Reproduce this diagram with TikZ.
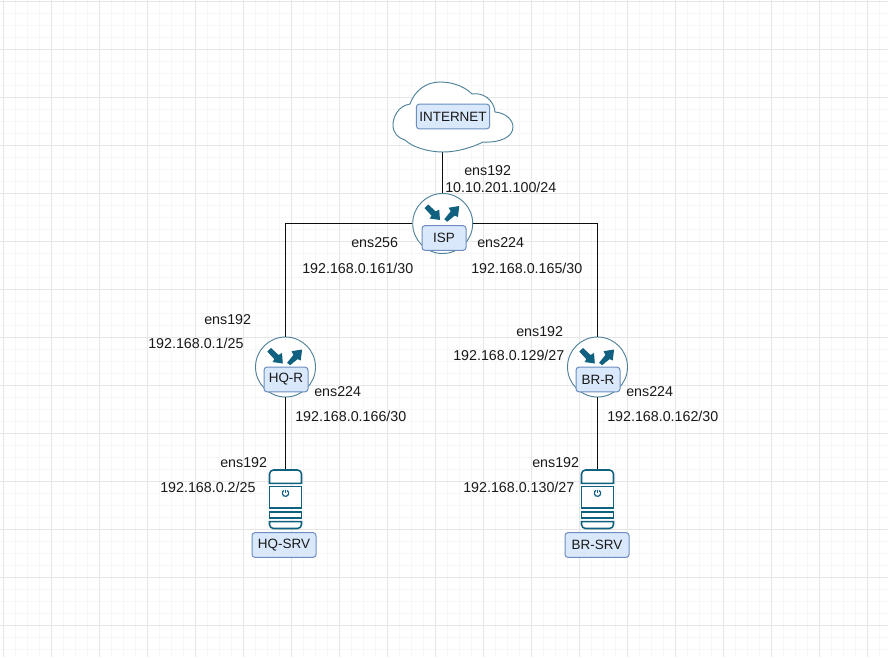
\documentclass[tikz,border=0pt]{standalone}
\usepackage{fontspec}
\setmainfont{Liberation Sans}
\usetikzlibrary{calc}
\definecolor{boxfill}{HTML}{DAE8FC}
\definecolor{boxline}{HTML}{6C8EBF}
\definecolor{icon}{HTML}{10607F}
\definecolor{ring}{HTML}{4F8299}
\definecolor{gmaj}{HTML}{E6E6E6}
\definecolor{gmin}{HTML}{F7F7F7}
\tikzset{
  lbl/.style={inner sep=0pt,font=\fontsize{10.7pt}{12pt}\selectfont,text=black!90},
  tag/.style={draw=boxline,fill=boxfill,rounded corners=2.2pt,line width=.75pt,inner sep=0pt,font=\fontsize{10.1pt}{12pt}\selectfont,text=black!90,minimum height=18.5pt},
  routerc/.style={circle,draw=ring,fill=white,line width=.7pt,minimum size=45pt,inner sep=0pt},
  link/.style={line width=1.1pt,black!95},
  arr/.style={draw=none,fill=icon},
  srv/.style={draw=icon,fill=white,line width=1.15pt},
}
\newcommand{\routerarrows}[1]{%
  \begin{scope}[shift={(#1)}]
  \fill[arr] (-14.5,-19) -- (-6.9,-12) -- (-3.5,-14) -- (-2.7,-3.5) -- (-13,-5) -- (-11.1,-7.8) -- (-18.2,-15.4) -- cycle;
  \fill[arr] (4.6,-1.8) -- (12.1,-7.9) -- (15.2,-6.5) -- (16.6,-17.5) -- (6,-15.8) -- (7.9,-12.1) -- (1.6,-4.2) -- cycle;
  \end{scope}
}
\newcommand{\servericon}[1]{%
  \begin{scope}[shift={(#1)}]
  \draw[srv] (-16,13.3) [rounded corners=3pt] -- (-16,0) -- (16,0) [sharp corners] -- (16,13.3) -- cycle;
  \draw[srv] (-16,16.5) rectangle (16,38);
  \draw[srv] (-16,42) rectangle (16,48);
  \draw[srv] (-16,51.7) [rounded corners=3pt] -- (-16,58.5) -- (16,58.5) [sharp corners] -- (16,51.7) -- cycle;
  \draw[draw=icon,line width=.9pt] (1.6,20.4) arc[start angle=300,end angle=600,radius=3.2];
  \draw[draw=icon,line width=.9pt] (0,19.5) -- (0,23.3);
  \end{scope}
}
\begin{document}
\begin{tikzpicture}[x=.75pt,y=-.75pt]
\useasboundingbox (0,0) rectangle (888,657);
\fill[white] (0,0) rectangle (888,657);
\foreach \i in {0,...,74} \draw[gmin,line width=.75pt] ({3.5+12*\i},0) -- ({3.5+12*\i},657);
\foreach \i in {0,...,55} \draw[gmin,line width=.75pt] (0,{1+12*\i}) -- (888,{1+12*\i});
\foreach \i in {0,...,18} \draw[gmaj,line width=.75pt] ({3.5+48*\i},0) -- ({3.5+48*\i},657);
\foreach \i in {0,...,13} \draw[gmaj,line width=.75pt] (0,{1+48*\i}) -- (888,{1+48*\i});

\coordinate (cb) at (442.7,152);
\coordinate (jl) at (285.5,223.5);
\coordinate (jr) at (597.5,223.5);
\node[routerc] (isp) at (442.7,223.5) {};
\node[routerc] (hq) at (285.5,367) {};
\node[routerc] (br) at (597.5,367) {};
\coordinate (hqs) at (285.5,470);
\coordinate (brs) at (597.5,470);

\draw[link] (cb) -- (isp.north);
\draw[link] (isp.west) -- (jl) -- (hq.north);
\draw[link] (isp.east) -- (jr) -- (br.north);
\draw[link] (hq.south) -- (hqs);
\draw[link] (br.south) -- (brs);

\draw[draw=ring,fill=white,line width=.7pt]
 (410,104) .. controls (398,106) and (393,117) .. (393,125)
 .. controls (393,133) and (398,138) .. (405,140)
 .. controls (412,147) and (428,152) .. (443,152)
 .. controls (458,152) and (473,147) .. (483,142)
 .. controls (500,143) and (513,137) .. (513,127)
 .. controls (513,120) and (506,113) .. (495,112)
 .. controls (494,100) and (483,92) .. (472,94)
 .. controls (463,85) and (450,82) .. (440,82)
 .. controls (425,82) and (414,92) .. (410,104) -- cycle;
\node[tag,minimum width=55pt] (inet) at (453,116.5) {INTERNET};

\routerarrows{442.7,223.5}
\routerarrows{285.5,367}
\routerarrows{597.5,367}
\node[tag,minimum width=33pt] (ispl) at (444,238) {ISP};
\node[tag,minimum width=33pt] (hql) at (286,379.5) {HQ-R};
\node[tag,minimum width=33pt] (brl) at (598,379.5) {BR-R};

\servericon{hqs}
\servericon{brs}
\node[tag,minimum width=48pt] (hqsl) at (284,545) {HQ-SRV};
\node[tag,minimum width=48pt] (brsl) at (597,545) {BR-SRV};

\node[lbl,anchor=west] (l1) at (464,171) {ens192};
\node[lbl,anchor=west] (l2) at (445,187) {10.10.201.100/24};
\node[lbl,anchor=west] (l3) at (351,243) {ens256};
\node[lbl,anchor=west] (l4) at (302,268) {192.168.0.161/30};
\node[lbl,anchor=west] (l5) at (477,243) {ens224};
\node[lbl,anchor=west] (l6) at (471,268) {192.168.0.165/30};
\node[lbl,anchor=west] (l7) at (204,320) {ens192};
\node[lbl,anchor=west] (l8) at (148,343) {192.168.0.1/25};
\node[lbl,anchor=west] (l9) at (314,392) {ens224};
\node[lbl,anchor=west] (l10) at (295,416) {192.168.0.166/30};
\node[lbl,anchor=west] (l11) at (516,332) {ens192};
\node[lbl,anchor=west] (l12) at (453,355) {192.168.0.129/27};
\node[lbl,anchor=west] (l13) at (626,392) {ens224};
\node[lbl,anchor=west] (l14) at (607,416) {192.168.0.162/30};
\node[lbl,anchor=west] (l15) at (220,463) {ens192};
\node[lbl,anchor=west] (l16) at (160,487) {192.168.0.2/25};
\node[lbl,anchor=west] (l17) at (532,463) {ens192};
\node[lbl,anchor=west] (l18) at (463,487) {192.168.0.130/27};
\end{tikzpicture}
\end{document}
